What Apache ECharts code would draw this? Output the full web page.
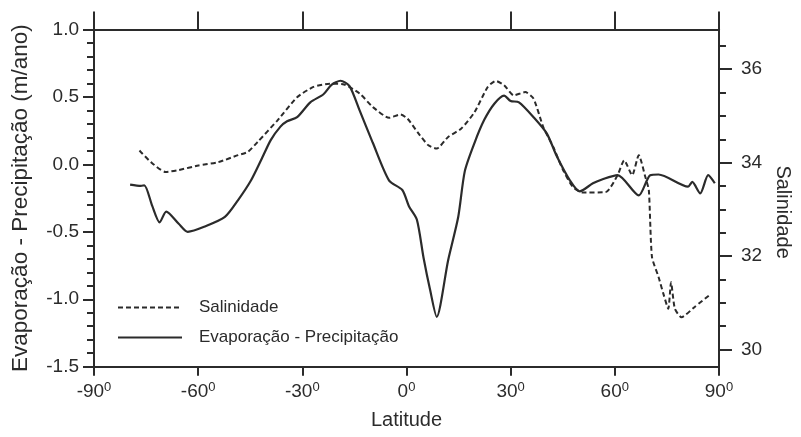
<!DOCTYPE html>
<html>
<head>
<meta charset="utf-8">
<script src="https://cdn.jsdelivr.net/npm/echarts@6/dist/echarts.min.js"></script>
<style>
  html, body { margin: 0; padding: 0; background: #fff; }
  #chart { width: 801px; height: 437px; }
</style>
</head>
<body>
<div id="chart"></div>
<script>
// Evaporação - Precipitação (m/ano)
const epLat = [-79.6, -76.5, -75.5, -73.2, -71.1, -69.2, -65.6, -63.0, -58.0, -52.3, -48.5, -44.8, -41.9, -39.1, -36.3, -34.4, -31.5, -27.7, -23.9, -21.6, -19.0, -16.4, -13.5, -9.7, -5.0, -1.2, 0.7, 3.0, 4.9, 6.8, 8.7, 12.0, 14.9, 16.8, 19.6, 22.4, 25.3, 28.1, 30.0, 32.4, 36.6, 40.4, 43.3, 47.1, 49.9, 53.7, 56.5, 60.8, 66.9, 70.2, 72.6, 81.1, 82.3, 84.6, 86.9, 88.8];
const epVal = [-0.15, -0.16, -0.155, -0.31, -0.43, -0.35, -0.44, -0.50, -0.46, -0.39, -0.265, -0.12, 0.03, 0.18, 0.28, 0.32, 0.35, 0.46, 0.52, 0.59, 0.62, 0.58, 0.40, 0.16, -0.12, -0.19, -0.31, -0.41, -0.69, -0.93, -1.13, -0.71, -0.39, -0.05, 0.16, 0.33, 0.45, 0.51, 0.47, 0.46, 0.35, 0.23, 0.06, -0.12, -0.20, -0.14, -0.11, -0.08, -0.23, -0.08, -0.075, -0.165, -0.13, -0.215, -0.08, -0.14];

// Salinidade
const salLat = [-76.9, -73.6, -69.4, -65.6, -59.9, -54.2, -48.5, -45.7, -42.9, -37.2, -31.5, -26.8, -22.1, -18.3, -13.5, -9.7, -5.0, -1.7, 0.3, 3.5, 6.3, 8.7, 12.0, 15.8, 19.6, 23.4, 25.7, 28.1, 30.9, 34.2, 36.6, 39.4, 42.3, 45.1, 47.9, 50.8, 57.4, 60.8, 62.7, 65.0, 66.9, 68.8, 69.8, 70.7, 72.6, 74.0, 75.4, 76.2, 77.3, 79.2, 83.0, 87.7];
const salVal = [34.26, 34.01, 33.80, 33.84, 33.94, 34.01, 34.16, 34.23, 34.44, 34.90, 35.40, 35.62, 35.69, 35.68, 35.48, 35.19, 34.96, 35.03, 34.94, 34.62, 34.37, 34.30, 34.55, 34.73, 35.08, 35.62, 35.75, 35.66, 35.44, 35.51, 35.37, 34.76, 34.33, 33.84, 33.48, 33.36, 33.37, 33.73, 34.05, 33.73, 34.16, 33.69, 33.41, 31.98, 31.55, 31.19, 30.87, 31.44, 30.87, 30.69, 30.91, 31.19];

// eixo direito
const salMajor = [30, 32, 34, 36];
const salMinor = [30.5, 31, 31.5, 32.5, 33, 33.5, 34.5, 35, 35.5, 36.5];

const ink = "#2b2b2b";
const font = "Liberation Sans, Arial, sans-serif";

const chart = echarts.init(document.getElementById("chart"));

const option = {
  animation: false,
  grid: { left: 94, right: 73, top: 29.5, bottom: 70.3 },
  legend: {
    orient: "vertical",
    left: 112,
    top: 294,
    itemWidth: 64,
    itemHeight: 12,
    itemGap: 13,
    itemStyle: { color: "transparent", borderColor: "transparent", borderWidth: 0 },
    textStyle: { fontFamily: font, fontSize: 17, color: ink, padding: [0, 0, 0, 12] },
    data: ["Salinidade", "Evaporação - Precipitação"],
  },
  xAxis: [
    {
      type: "value",
      min: -90,
      max: 90,
      interval: 30,
      name: "Latitude",
      nameLocation: "middle",
      nameGap: 44,
      nameTextStyle: { fontFamily: font, fontSize: 20, color: ink },
      axisLine: { onZero: false, lineStyle: { color: ink, width: 2 } },
      axisTick: { length: 9, lineStyle: { color: ink, width: 2 } },
      splitLine: { show: false },
      axisLabel: {
        margin: 14,
        formatter: (v) => "{a|" + v + "}{s|0}",
        rich: {
          a: { fontFamily: font, fontSize: 19, color: ink, lineHeight: 22 },
          s: { fontFamily: font, fontSize: 13, color: ink, verticalAlign: "top", lineHeight: 14 },
        },
      },
    },
    {
      type: "value",
      position: "top",
      min: -90,
      max: 90,
      interval: 30,
      axisLine: { onZero: false, lineStyle: { color: ink, width: 2 } },
      axisTick: { length: 18, lineStyle: { color: ink, width: 2 } },
      axisLabel: { show: false },
      splitLine: { show: false },
    },
  ],
  yAxis: [
    {
      type: "value",
      min: -1.5,
      max: 1.0,
      interval: 0.5,
      name: "Evaporação - Precipitação (m/ano)",
      nameLocation: "middle",
      nameGap: 62,
      nameTextStyle: { fontFamily: font, fontSize: 22.5, color: ink },
      axisLine: { show: true, onZero: false, lineStyle: { color: ink, width: 2 } },
      axisTick: { length: 11, lineStyle: { color: ink, width: 2 } },
      minorTick: { show: true, splitNumber: 5, length: 7, lineStyle: { color: ink, width: 2 } },
      splitLine: { show: false },
      axisLabel: { margin: 15, fontFamily: font, fontSize: 19, color: ink, formatter: (v) => v.toFixed(1) },
    },
    {
      type: "value",
      position: "right",
      min: 29.63,
      max: 36.85,
      name: "Salinidade",
      nameLocation: "middle",
      nameRotate: -90,
      nameGap: 48,
      nameTextStyle: { fontFamily: font, fontSize: 20, color: ink, padding: [0, 0, 0, 28] },
      axisLine: { show: true, onZero: false, lineStyle: { color: ink, width: 2 } },
      axisTick: { length: 13, customValues: salMajor, lineStyle: { color: ink, width: 2 } },
      splitLine: { show: false },
      axisLabel: { margin: 22, customValues: salMajor, fontFamily: font, fontSize: 19, color: ink },
    },
    {
      type: "value",
      position: "right",
      min: 29.63,
      max: 36.85,
      axisLine: { show: false, onZero: false },
      axisTick: { show: true, length: 7, customValues: salMinor, lineStyle: { color: ink, width: 2 } },
      axisLabel: { show: false },
      splitLine: { show: false },
    },
  ],
  series: [
    {
      name: "Salinidade",
      type: "line",
      yAxisIndex: 1,
      symbol: "none",
      smooth: 0.2,
      lineStyle: { color: ink, width: 2, type: [5, 3] },
      itemStyle: { color: ink },
      data: salLat.map((x, i) => [x, salVal[i]]),
    },
    {
      name: "Evaporação - Precipitação",
      type: "line",
      yAxisIndex: 0,
      symbol: "none",
      smooth: 0.25,
      lineStyle: { color: ink, width: 2.2 },
      itemStyle: { color: ink },
      data: epLat.map((x, i) => [x, epVal[i]]),
    },
  ],
};

chart.setOption(option);
</script>
</body>
</html>
